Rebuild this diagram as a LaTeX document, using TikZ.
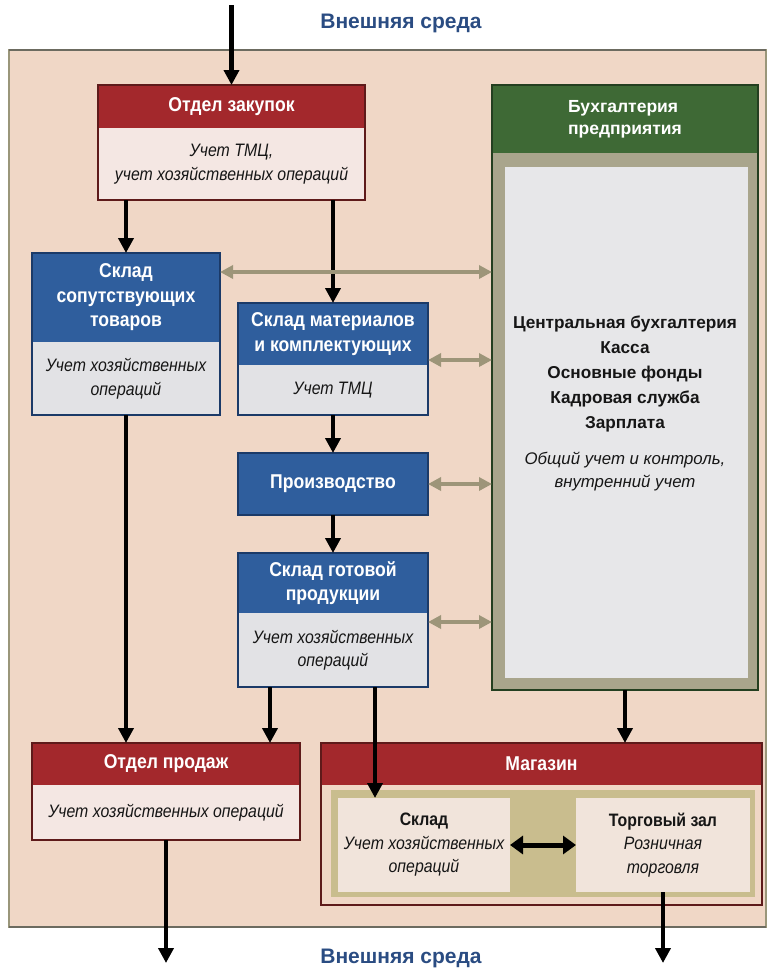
\documentclass[tikz,border=0pt]{standalone}
\usepackage{fontspec}
\setmainfont{Liberation Sans}
\newfontfamily\cond[FakeStretch=0.88]{Liberation Sans}
\usetikzlibrary{arrows.meta,calc}
\definecolor{bg}{HTML}{F0D7C6}
\definecolor{frameol}{HTML}{9A967A}
\definecolor{framedk}{HTML}{6C6B60}
\definecolor{redh}{HTML}{A3282C}
\definecolor{redb}{HTML}{5E1A1A}
\definecolor{pinkb}{HTML}{F4E7E3}
\definecolor{blueh}{HTML}{2F5E9D}
\definecolor{blueb}{HTML}{1B3A68}
\definecolor{grayb}{HTML}{E2E2E5}
\definecolor{greenh}{HTML}{3E6935}
\definecolor{greenb}{HTML}{243F20}
\definecolor{olivef}{HTML}{A9A58C}
\definecolor{lightg}{HTML}{E7E7E9}
\definecolor{dblc}{HTML}{9D9579}
\definecolor{tan}{HTML}{C9BD8E}
\definecolor{inbox}{HTML}{F1E4DB}
\definecolor{titlec}{HTML}{2A4C82}
\definecolor{txt}{HTML}{161616}
\begin{document}
\begin{tikzpicture}[x=1pt,y=-1pt,
  box/.style={anchor=north west, inner sep=0pt, outer sep=0pt, align=center},
  hdr/.style={box, text=white, font=\cond\bfseries\fontsize{20}{24.5}\selectfont},
  bdy/.style={box, text=txt, font=\cond\itshape\fontsize{18}{23.5}\selectfont},
  redhdr/.style={hdr, fill=redh},
  bluehdr/.style={hdr, fill=blueh},
  redbody/.style={bdy, fill=pinkb},
  bluebody/.style={bdy, fill=grayb},
  redframe/.style={draw=redb, line width=1.5pt},
  blueframe/.style={draw=blueb, line width=1.5pt},
  arr/.style={draw=black, line width=4.5pt, -{Triangle[length=15pt,width=15pt]}},
  darr/.style={draw=dblc, line width=3.5pt, {Triangle[length=13pt,width=13pt]}-{Triangle[length=13pt,width=13pt]}},
  barr/.style={draw=black, line width=5pt, {Triangle[length=13pt,width=18pt]}-{Triangle[length=13pt,width=18pt]}},
  ttl/.style={text=titlec, font=\bfseries\fontsize{21}{25}\selectfont, inner sep=0pt}
]
\useasboundingbox (0,0) rectangle (767,970);
\fill[white] (0,0) rectangle (767,970);
% outer frame
\fill[bg] (9,50) rectangle (766,927);
\draw[frameol, line width=2pt] (9,50) rectangle (766,927);
\draw[framedk, line width=2.5pt] (9,50) -- (766,50);
\draw[framedk, line width=2.5pt] (9,927) -- (766,927);

% titles
\node[ttl] (t1) at (401,23) {Внешняя среда};
\node[ttl] (t2) at (401,958) {Внешняя среда};

% Отдел закупок
\node[redhdr, minimum width=267pt, minimum height=43pt] (zakh) at (98,85) {Отдел закупок};
\node[redbody, minimum width=267pt, minimum height=72pt] (zakb) at (98,128) {Учет ТМЦ,\\учет хозяйственных операций};
\draw[redframe] (zakh.north west) rectangle (zakb.south east);

% Склад сопутствующих товаров
\node[bluehdr, minimum width=188pt, minimum height=89pt] (soph) at (32,253) {Склад\\сопутствующих\\товаров};
\node[bluebody, minimum width=188pt, minimum height=73pt] (sopb) at (32,342) {Учет хозяйственных\\операций};
\draw[blueframe] (soph.north west) rectangle (sopb.south east);

% Склад материалов
\node[bluehdr, minimum width=190pt, minimum height=62pt] (math) at (238,303) {Склад материалов\\и комплектующих};
\node[bluebody, minimum width=190pt, minimum height=50pt] (matb) at (238,365) {Учет ТМЦ};
\draw[blueframe] (math.north west) rectangle (matb.south east);

% Производство
\node[bluehdr, minimum width=190pt, minimum height=62pt] (proiz) at (238,453) {Производство};
\draw[blueframe] (proiz.north west) rectangle (proiz.south east);

% Склад готовой продукции
\node[bluehdr, minimum width=190pt, minimum height=60pt] (goth) at (238,553) {Склад готовой\\продукции};
\node[bluebody, minimum width=190pt, minimum height=74pt] (gotb) at (238,613) {Учет хозяйственных\\операций};
\draw[blueframe] (goth.north west) rectangle (gotb.south east);

% Бухгалтерия предприятия
\node[box, fill=greenh, text=white, font=\bfseries\fontsize{17.5}{22}\selectfont, minimum width=266pt, minimum height=68pt] (buhh) at (492,85) {\begin{tabular}{@{}l@{}}Бухгалтерия\\предприятия\end{tabular}};
\node[box, fill=olivef, minimum width=266pt, minimum height=537pt] (buhb) at (492,153) {};
\node[box, fill=lightg, minimum width=243pt, minimum height=511pt, text=txt] (buhi) at (505,167) {};
\node[text=txt, align=center, inner sep=0pt, font=\bfseries\fontsize{17.2}{25}\selectfont] (buht) at (625,374)
  {Центральная бухгалтерия\\Касса\\Основные фонды\\Кадровая служба\\Зарплата};
\node[text=txt, align=center, inner sep=0pt, font=\itshape\fontsize{16.8}{23}\selectfont] (buhs) at (625,472)
  {Общий учет и контроль,\\внутренний учет};
\draw[draw=greenb, line width=2pt] (buhh.north west) rectangle (buhb.south east);

% Отдел продаж
\node[redhdr, minimum width=268pt, minimum height=42pt] (prodh) at (32,743) {Отдел продаж};
\node[redbody, minimum width=268pt, minimum height=55pt] (prodb) at (32,785) {Учет хозяйственных операций};
\draw[redframe] (prodh.north west) rectangle (prodb.south east);

% Магазин
\node[redhdr, minimum width=441pt, minimum height=42pt] (magh) at (321,743) {Магазин};
\node[box, fill=bg, minimum width=441pt, minimum height=120pt] (magb) at (321,785) {};
\fill[tan] (331,790) rectangle (755,897);
\node[bdy, fill=inbox, minimum width=172pt, minimum height=94pt] (skl) at (338,798)
  {{\upshape\bfseries Склад}\\Учет хозяйственных\\операций};
\node[bdy, fill=inbox, minimum width=174pt, minimum height=94pt] (torg) at (576,798)
  {{\upshape\bfseries Торговый зал}\\Розничная\\торговля};
\draw[redframe] (magh.north west) rectangle (magb.south east);

% arrows
\coordinate (ext0) at ($(zakh.north)+(0,-80)$);
\draw[arr] (ext0) -- (zakh.north);
\draw[arr] (zakb.south -| soph.north) -- (soph.north);
\draw[arr] (zakb.south -| math.north) -- (math.north);
\draw[arr] (matb.south) -- (proiz.north);
\draw[arr] (proiz.south) -- (goth.north);
\draw[arr] (sopb.south) -- (sopb.south |- prodh.north);
\coordinate (g1) at ($(gotb.south west)+(32,0)$);
\coordinate (g2) at ($(gotb.south west)+(137,0)$);
\draw[arr] (g1) -- (g1 |- prodh.north);
\draw[arr] (g2) -- (g2 |- skl.north);
\draw[arr] (buhb.south) -- (buhb.south |- magh.north);
\coordinate (ext1) at ($(prodb.south)+(0,123)$);
\draw[arr] (prodb.south) -- (ext1);
\draw[arr] (torg.south) -- (torg.south |- ext1);

% double arrows
\coordinate (d1) at ($(soph.north east)+(0,19)$);
\coordinate (d2) at ($(math.north east)+(0,57)$);
\coordinate (d4) at ($(goth.north east)+(0,69)$);
\draw[darr] (d1) -- (d1 -| buhb.west);
\draw[darr] (d2) -- (d2 -| buhb.west);
\draw[darr] (proiz.east) -- (proiz.east -| buhb.west);
\draw[darr] (d4) -- (d4 -| buhb.west);
\draw[barr] (skl.east) -- (torg.west);
\end{tikzpicture}
\end{document}
